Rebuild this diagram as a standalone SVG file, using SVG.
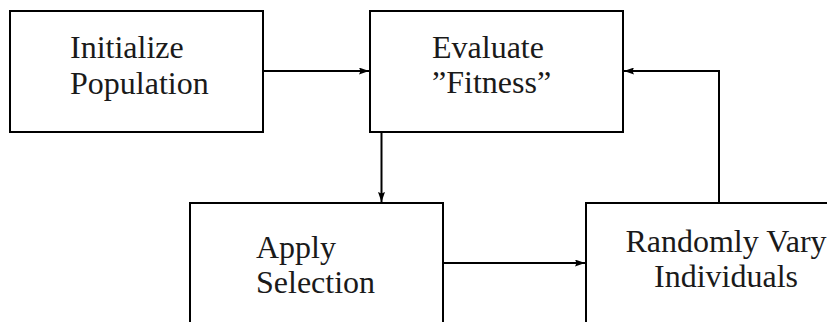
<svg xmlns="http://www.w3.org/2000/svg" width="827" height="322" viewBox="0 0 827 322">
  <style>
    .box { fill: #ffffff; stroke: #000000; stroke-width: 2; }
    .lbl { font-size: 32px; fill: #1a1a1a; }
    .conn { fill: none; stroke: #000000; stroke-width: 2; marker-end: url(#arrow); }
  </style>
  <defs>
    <marker id="arrow" markerUnits="userSpaceOnUse" markerWidth="10" markerHeight="7" refX="10" refY="3.5" orient="auto">
      <path d="M0,0 L10,3.5 L0,7 L1.5,3.5 z" fill="#000000"/>
    </marker>
  </defs>
  <rect width="827" height="322" fill="#ffffff"/>
  <g id="init">
    <rect class="box" x="10" y="11" width="253" height="121"/>
    <text class="lbl" style="font-family: 'Liberation Serif', serif" x="70" y="58">Initialize</text>
    <text class="lbl" style="font-family: 'Liberation Serif', serif" x="70" y="94">Population</text>
  </g>
  <g id="evaluate">
    <rect class="box" x="370" y="11" width="253" height="121"/>
    <text class="lbl" style="font-family: 'Liberation Serif', serif" x="432" y="58">Evaluate</text>
    <text class="lbl" style="font-family: 'Liberation Serif', serif" x="432" y="93">”Fitness”</text>
  </g>
  <g id="selection">
    <rect class="box" x="190" y="203" width="253" height="160"/>
    <text class="lbl" style="font-family: 'Liberation Serif', serif" x="256" y="258">Apply</text>
    <text class="lbl" style="font-family: 'Liberation Serif', serif" x="256" y="293">Selection</text>
  </g>
  <g id="vary">
    <rect class="box" x="586" y="203" width="280" height="160"/>
    <text class="lbl" style="font-family: 'Liberation Serif', serif" x="726" y="252" text-anchor="middle">Randomly Vary</text>
    <text class="lbl" style="font-family: 'Liberation Serif', serif" x="726" y="287" text-anchor="middle">Individuals</text>
  </g>
  <g id="connectors">
    <path class="conn" d="M263,71 H369"/>
    <path class="conn" d="M381.5,132 V202"/>
    <path class="conn" d="M443,263 H585"/>
    <path class="conn" d="M719,203 V71 H624"/>
  </g>
</svg>
